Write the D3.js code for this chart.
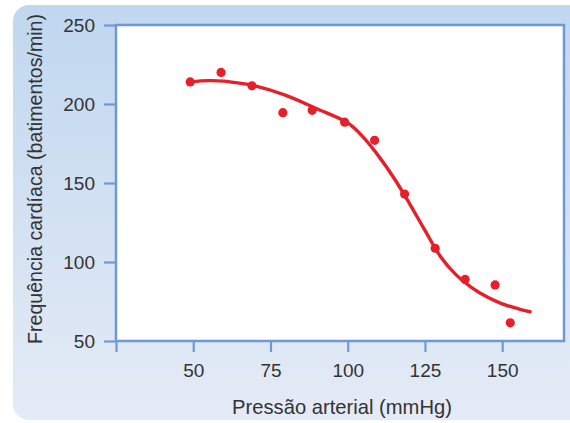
<!DOCTYPE html>
<html>
<head>
<meta charset="utf-8">
<script src="https://cdn.jsdelivr.net/npm/d3@7"></script>
<style>
  html, body { margin: 0; padding: 0; background: #fff; }
  svg { display: block; }
  text { font-family: "Liberation Sans", Arial, sans-serif; fill: #333; }
</style>
</head>
<body>
<svg id="chart" width="570" height="423"></svg>
<script>
// Observed data points (blood pressure mmHg, heart rate bpm)
const pressure = [49, 59, 69, 79, 88.5, 99, 108.7, 118.4, 128.3, 138, 147.7, 152.6];
const heartRate = [214, 220, 211.5, 194.5, 196, 188.5, 177, 143, 108.7, 89, 85.5, 61.5];

// Fitted curve
const curveX = [49, 55, 60, 65, 70, 80, 90, 100, 105, 110, 115, 120, 125, 130, 135, 140, 145, 150, 155, 159];
const curveY = [214, 214.8, 214.5, 213.2, 211.5, 205.5, 197, 188, 179, 167, 153, 137, 120, 103.5, 92, 84, 78, 73.5, 70.5, 68.5];

const xTicks = [25, 50, 75, 100, 125, 150];
const yTicks = [50, 100, 150, 200, 250];
const xTitle = "Pressão arterial (mmHg)";
const yTitle = "Frequência cardíaca (batimentos/min)";

const svg = d3.select("#chart");
const defs = svg.append("defs");
const grad = defs.append("linearGradient").attr("id", "bg").attr("x1", 0).attr("y1", 0).attr("x2", 0).attr("y2", 1);
grad.append("stop").attr("offset", "0%").attr("stop-color", "#c0d7ef");
grad.append("stop").attr("offset", "100%").attr("stop-color", "#e5ebf6");

// background panel
svg.append("rect").attr("x", 13).attr("y", 5).attr("width", 600).attr("height", 415)
  .attr("rx", 16).attr("fill", "url(#bg)");

const pLeft = 116, pRight = 564, pTop = 25, pBottom = 341;
const x = d3.scaleLinear().domain([25, 170]).range([pLeft, pRight]);
const y = d3.scaleLinear().domain([50, 250]).range([pBottom, pTop]);

const axisColor = "#6e99d5";

// plot area
svg.append("rect").attr("x", pLeft).attr("y", pTop).attr("width", pRight - pLeft).attr("height", pBottom - pTop)
  .attr("fill", "#fff").attr("stroke", axisColor).attr("stroke-width", 2.5);

// y axis
const gy = svg.append("g").attr("transform", `translate(${pLeft},0)`)
  .call(d3.axisLeft(y).tickValues(yTicks).tickSize(12).tickPadding(9).tickFormat(d3.format("d")));
gy.select(".domain").remove();
gy.selectAll(".tick line").attr("stroke", axisColor).attr("stroke-width", 2.2);
gy.selectAll(".tick text").attr("font-size", 19).attr("fill", "#333")
  .style("font-family", "'Liberation Sans', Arial, sans-serif");

// x axis
const gx = svg.append("g").attr("transform", `translate(0,${pBottom})`)
  .call(d3.axisBottom(x).tickValues(xTicks).tickSize(11).tickFormat(d => d === 25 ? "" : d3.format("d")(d)));
gx.select(".domain").remove();
gx.selectAll(".tick line").attr("stroke", axisColor).attr("stroke-width", 2.2);
gx.selectAll(".tick text").attr("font-size", 19).attr("fill", "#333")
  .attr("y", 36).attr("dy", 0)
  .style("font-family", "'Liberation Sans', Arial, sans-serif");

// titles
svg.append("text").attr("x", 342).attr("y", 414).attr("text-anchor", "middle")
  .attr("font-size", 20.2).text(xTitle);
svg.append("text").attr("transform", "translate(41.5,179) rotate(-90)").attr("text-anchor", "middle")
  .attr("font-size", 19.6).text(yTitle);

const red = "#e5202a";
const line = d3.line().x(d => x(d[0])).y(d => y(d[1])).curve(d3.curveCatmullRom.alpha(0.5));
svg.append("path").datum(curveX.map((v, i) => [v, curveY[i]]))
  .attr("d", line).attr("fill", "none").attr("stroke", red).attr("stroke-width", 3.4)
  .attr("stroke-linecap", "round");

svg.append("g").selectAll("circle").data(pressure.map((v, i) => [v, heartRate[i]]))
  .join("circle").attr("cx", d => x(d[0])).attr("cy", d => y(d[1])).attr("r", 4.6).attr("fill", red);
</script>
</body>
</html>
